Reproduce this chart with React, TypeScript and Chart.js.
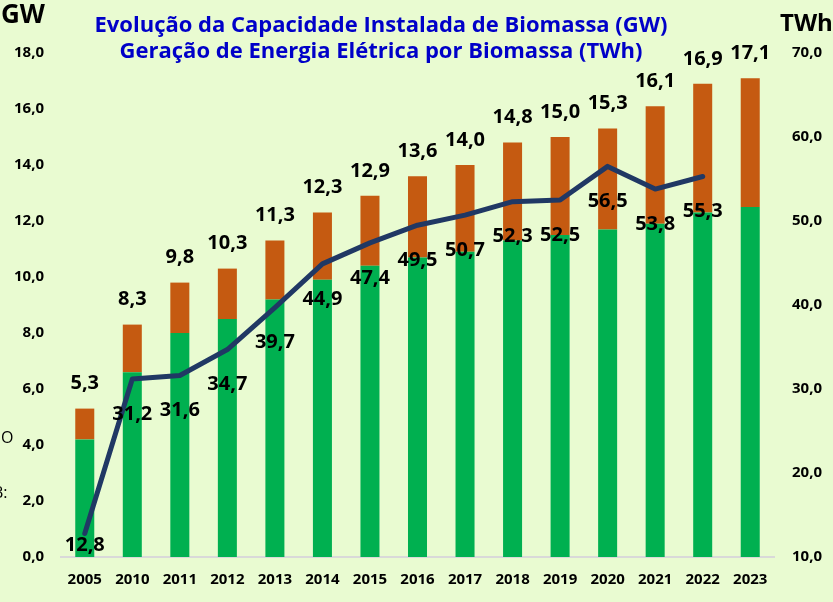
import React, { useEffect, useRef } from "react";
import { Chart, registerables } from "chart.js";

Chart.register(...registerables);

const years = ["2005", "2010", "2011", "2012", "2013", "2014", "2015", "2016", "2017", "2018", "2019", "2020", "2021", "2022", "2023"];
const totalGW = [5.3, 8.3, 9.8, 10.3, 11.3, 12.3, 12.9, 13.6, 14.0, 14.8, 15.0, 15.3, 16.1, 16.9, 17.1];
const greenGW = [4.2, 6.6, 8.0, 8.5, 9.2, 9.9, 10.4, 10.7, 10.9, 11.3, 11.5, 11.7, 11.9, 12.3, 12.5];
const orangeGW = [1.1, 1.7, 1.8, 1.8, 2.1, 2.4, 2.5, 2.9, 3.1, 3.5, 3.5, 3.6, 4.2, 4.6, 4.6];
const generationTWh: (number | null)[] = [12.8, 31.2, 31.6, 34.7, 39.7, 44.9, 47.4, 49.5, 50.7, 52.3, 52.5, 56.5, 53.8, 55.3, null];
const titleLines = ["Evolução da Capacidade Instalada de Biomassa (GW)", "Geração de Energia Elétrica por Biomassa (TWh)"];
const leftUnit = "GW";
const rightUnit = "TWh";

const FONT = "'Open Sans', 'DejaVu Sans', sans-serif";
const fmt = (v: number) => v.toFixed(1).replace(".", ",");

const labelsPlugin = {
  id: "customLabels",
  afterDatasetsDraw(chart: any) {
    const ctx = chart.ctx;
    const area = chart.chartArea;
    ctx.save();
    const topMeta = chart.getDatasetMeta(1);
    ctx.fillStyle = "#000";
    ctx.font = `bold 20px ${FONT}`;
    ctx.textAlign = "center";
    ctx.textBaseline = "middle";
    topMeta.data.forEach((bar: any, i: number) => {
      ctx.fillText(fmt(totalGW[i]), bar.x, bar.y - 25);
    });
    const lineMeta = chart.getDatasetMeta(2);
    lineMeta.data.forEach((pt: any, i: number) => {
      const v = generationTWh[i];
      if (v == null) return;
      const y = Math.min(pt.y + 35, area.bottom - 12);
      ctx.fillText(fmt(v), pt.x, y);
    });
    ctx.restore();
  },
  afterDraw(chart: any) {
    const ctx = chart.ctx;
    const area = chart.chartArea;
    ctx.save();
    ctx.fillStyle = "#0000c8";
    ctx.font = `bold 22px ${FONT}`;
    ctx.textAlign = "center";
    ctx.textBaseline = "alphabetic";
    ctx.fillText(titleLines[0], 381, 32);
    ctx.fillText(titleLines[1], 381, 58);
    ctx.fillStyle = "#000";
    ctx.font = `bold 26px ${FONT}`;
    ctx.textAlign = "left";
    ctx.fillText(leftUnit, 1, 23);
    ctx.font = `bold 24px ${FONT}`;
    ctx.fillText(rightUnit, area.right + 6, 31);
    ctx.font = `16px ${FONT}`;
    ctx.fillText("O", 1, 443);
    ctx.fillText("B:", -7, 498);
    ctx.restore();
  },
};

export default function App() {
  const ref = useRef<HTMLCanvasElement | null>(null);
  useEffect(() => {
    if (!ref.current) return;
    const chart = new Chart(ref.current, {
      type: "bar",
      data: {
        labels: years,
        datasets: [
          {
            type: "bar",
            label: "green",
            data: greenGW,
            backgroundColor: "#00b050",
            yAxisID: "y",
            stack: "cap",
            barPercentage: 0.4,
            categoryPercentage: 1,
            order: 2,
          },
          {
            type: "bar",
            label: "orange",
            data: orangeGW,
            backgroundColor: "#c55a11",
            yAxisID: "y",
            stack: "cap",
            barPercentage: 0.4,
            categoryPercentage: 1,
            order: 2,
          },
          {
            type: "line",
            label: "TWh",
            data: generationTWh,
            borderColor: "#203864",
            borderWidth: 5,
            borderCapStyle: "round",
            borderJoinStyle: "round",
            pointRadius: 0,
            yAxisID: "y1",
            order: 1,
            tension: 0,
          } as any,
        ],
      },
      options: {
        responsive: false,
        animation: false,
        devicePixelRatio: 1,
        layout: { padding: { top: 53, left: 0, right: 0, bottom: 0 } },
        plugins: { legend: { display: false }, tooltip: { enabled: false }, title: { display: false } },
        scales: {
          x: {
            stacked: true,
            grid: { display: false, drawTicks: false },
            border: { display: true, color: "#d9d9d9", width: 2 },
            ticks: { color: "#000", font: { family: FONT, size: 15, weight: "bold" }, padding: 14, maxRotation: 0 },
            afterFit: (s: any) => { s.height = 45; },
          },
          y: {
            stacked: true,
            position: "left",
            min: 0,
            max: 18,
            grid: { display: false, drawTicks: false },
            border: { display: false },
            ticks: {
              stepSize: 2,
              color: "#000",
              padding: 17,
              font: { family: FONT, size: 15, weight: "bold" },
              callback: (v: any) => fmt(Number(v)),
            },
            afterFit: (s: any) => { s.width = 61; },
          },
          y1: {
            stacked: false,
            position: "right",
            min: 10,
            max: 70,
            grid: { display: false, drawTicks: false },
            border: { display: false },
            ticks: {
              stepSize: 10,
              color: "#000",
              padding: 18,
              font: { family: FONT, size: 15, weight: "bold" },
              callback: (v: any) => fmt(Number(v)),
            },
            afterFit: (s: any) => { s.width = 59; },
          },
        },
      } as any,
      plugins: [labelsPlugin],
    });
    return () => chart.destroy();
  }, []);
  return (
    <div style={{ position: "absolute", left: 0, top: 0, width: 833, height: 602, background: "#e9fbd1", overflow: "hidden" }}>
      <canvas ref={ref} width={833} height={602} style={{ display: "block" }} />
    </div>
  );
}
